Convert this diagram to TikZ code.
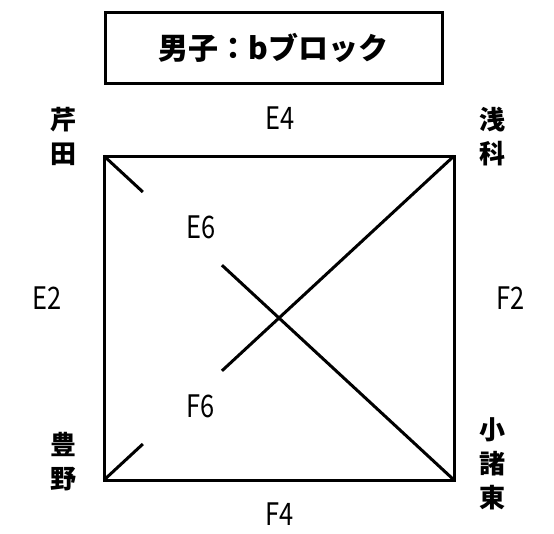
\documentclass[tikz,border=0pt]{standalone}
\usepackage{fontspec}
\setmainfont{Noto Sans CJK JP}
\usetikzlibrary{calc}
\tikzset{
  edge/.style={line width=3pt},
  lat/.style={inner sep=0pt, font=\fontsize{31}{31}\selectfont, xscale=0.82},
  vert/.style={inner sep=0pt, align=center, font=\fontsize{26}{34}\selectfont\bfseries},
}
\begin{document}
\begin{tikzpicture}[x=1pt,y=-1pt]
\useasboundingbox (0,0) rectangle (554,533);
% title
\node[draw, line width=3pt, minimum width=337pt, minimum height=71pt, inner sep=0pt,
      font=\fontsize{30}{30}\selectfont\bfseries] (title) at (273.5,47.5) {男子：bブロック};
% corners
\coordinate (tl) at (104,156);
\coordinate (tr) at (454,156);
\coordinate (bl) at (104,480);
\coordinate (br) at (454,480);
\draw[edge, line join=miter] (tl) -- (tr) -- (br) -- (bl) -- cycle;
% diagonals with gaps
\draw[edge] (tl) -- ($(tl)!0.111!(br)$);
\draw[edge] ($(tl)!0.337!(br)$) -- (br);
\draw[edge] (bl) -- ($(bl)!0.111!(tr)$);
\draw[edge] ($(bl)!0.337!(tr)$) -- (tr);
% team labels
\node[vert] (serita) at (63,136.5) {芹\\田};
\node[vert] (asashina) at (492,136.5) {浅\\科};
\node[vert] (toyono) at (63,462) {豊\\野};
\node[vert] (komoro) at (492,464) {小\\諸\\東};
% match labels
\node[lat] (e4) at (280,118.5) {E4};
\node[lat] (e2) at (47.5,298.5) {E2};
\node[lat] (f2) at (511,298.5) {F2};
\node[lat] (f4) at (280,514.5) {F4};
\node[lat] (e6) at (201,227.5) {E6};
\node[lat] (f6) at (201,406.5) {F6};
\end{tikzpicture}
\end{document}
